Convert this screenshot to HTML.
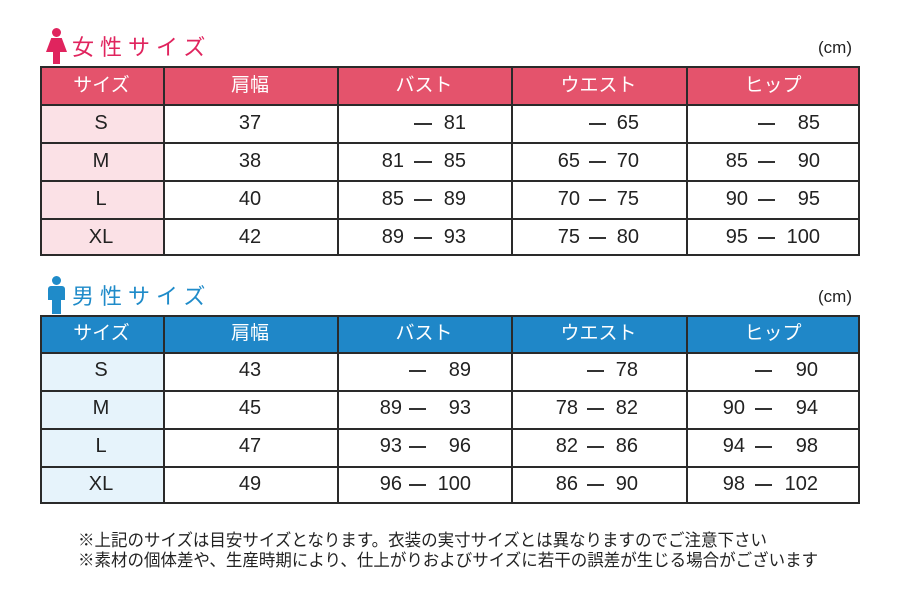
<!DOCTYPE html>
<html><head><meta charset="utf-8"><style>
*{margin:0;padding:0;box-sizing:border-box}
body{width:900px;height:590px;background:#fff;position:relative;overflow:hidden;font-family:"Liberation Sans","Noto Sans CJK JP",sans-serif;color:#222}
.a{position:absolute}
.tb{position:absolute;left:40px;width:820px;border:2px solid #2a2a2a}
.r{position:absolute;left:0;width:100%;border-top:2px solid #2a2a2a}
.v{position:absolute;top:0;height:100%;border-left:2px solid #2a2a2a}
.h{position:absolute;color:#fff;font-size:19px;text-align:center;line-height:36px}
.c{position:absolute;font-size:20px;text-align:center;width:120px;line-height:22px}
.n{position:absolute;font-size:20px;width:60px;text-align:right;line-height:22px}
.d{position:absolute;height:2px;background:#333}
.title{position:absolute;font-size:22px;letter-spacing:6px;font-family:"Noto Sans CJK JP",sans-serif}
.cm{position:absolute;left:818px;font-size:17px}
.note{position:absolute;left:78px;font-size:17px;font-family:"Noto Sans CJK JP",sans-serif;white-space:nowrap;transform:scaleX(0.97);transform-origin:left}
</style></head><body>

<div class="a" style="left:52px;top:28px;width:9px;height:9px;border-radius:50%;background:#e0245e"></div>
<div class="a" style="left:46px;top:38px;width:21px;height:14px;background:#e0245e;clip-path:polygon(25% 0,75% 0,100% 100%,0 100%)"></div>
<div class="a" style="left:53px;top:50px;width:7px;height:14px;background:#e0245e"></div>
<div class="title" style="left:72px;top:30px;color:#e0245e">女性サイズ</div>
<div class="cm" style="top:38px">(cm)</div>

<div class="tb" style="top:66px;height:190px">
 <div class="a" style="left:0;top:0;width:100%;height:36px;background:#e4536c"></div>
 <div class="a" style="left:0;top:36px;width:121px;height:150px;background:#fbe1e6"></div>
 <div class="r" style="top:36px"></div><div class="r" style="top:74px"></div><div class="r" style="top:112px"></div><div class="r" style="top:150px"></div>
 <div class="v" style="left:121px"></div><div class="v" style="left:295px"></div><div class="v" style="left:469px"></div><div class="v" style="left:644px"></div>
</div>
<div class="h" style="left:40px;width:123px;top:68px">サイズ</div>
<div class="h" style="left:163px;width:174px;top:68px">肩幅</div>
<div class="h" style="left:337px;width:174px;top:68px">バスト</div>
<div class="h" style="left:511px;width:175px;top:68px">ウエスト</div>
<div class="h" style="left:686px;width:174px;top:68px">ヒップ</div>

<div class="c" style="left:41px;top:112px">S</div><div class="c" style="left:41px;top:150px">M</div><div class="c" style="left:41px;top:188px">L</div><div class="c" style="left:41px;top:226px">XL</div>
<div class="c" style="left:190px;top:112px">37</div><div class="c" style="left:190px;top:150px">38</div><div class="c" style="left:190px;top:188px">40</div><div class="c" style="left:190px;top:226px">42</div>

<div class="d" style="left:414px;width:18px;top:123px"></div><div class="n" style="left:406px;top:112px">81</div>
<div class="n" style="left:344px;top:150px">81</div><div class="d" style="left:414px;width:18px;top:161px"></div><div class="n" style="left:406px;top:150px">85</div>
<div class="n" style="left:344px;top:188px">85</div><div class="d" style="left:414px;width:18px;top:199px"></div><div class="n" style="left:406px;top:188px">89</div>
<div class="n" style="left:344px;top:226px">89</div><div class="d" style="left:414px;width:18px;top:237px"></div><div class="n" style="left:406px;top:226px">93</div>
<div class="d" style="left:589px;width:17px;top:123px"></div><div class="n" style="left:579px;top:112px">65</div>
<div class="n" style="left:520px;top:150px">65</div><div class="d" style="left:589px;width:17px;top:161px"></div><div class="n" style="left:579px;top:150px">70</div>
<div class="n" style="left:520px;top:188px">70</div><div class="d" style="left:589px;width:17px;top:199px"></div><div class="n" style="left:579px;top:188px">75</div>
<div class="n" style="left:520px;top:226px">75</div><div class="d" style="left:589px;width:17px;top:237px"></div><div class="n" style="left:579px;top:226px">80</div>
<div class="d" style="left:758px;width:17px;top:123px"></div><div class="n" style="left:760px;top:112px">85</div>
<div class="n" style="left:688px;top:150px">85</div><div class="d" style="left:758px;width:17px;top:161px"></div><div class="n" style="left:760px;top:150px">90</div>
<div class="n" style="left:688px;top:188px">90</div><div class="d" style="left:758px;width:17px;top:199px"></div><div class="n" style="left:760px;top:188px">95</div>
<div class="n" style="left:688px;top:226px">95</div><div class="d" style="left:758px;width:17px;top:237px"></div><div class="n" style="left:760px;top:226px">100</div>

<div class="a" style="left:52px;top:276px;width:9px;height:9px;border-radius:50%;background:#1f8bc9"></div>
<div class="a" style="left:48px;top:286px;width:17px;height:14px;border-radius:3px 3px 0 0;background:#1f8bc9"></div>
<div class="a" style="left:52px;top:298px;width:9px;height:16px;background:#1f8bc9"></div>
<div class="title" style="left:72px;top:279px;color:#1f8bc9">男性サイズ</div>
<div class="cm" style="top:287px">(cm)</div>

<div class="tb" style="top:315px;height:189px">
 <div class="a" style="left:0;top:0;width:100%;height:35px;background:#1f87c8"></div>
 <div class="a" style="left:0;top:35px;width:121px;height:150px;background:#e6f3fb"></div>
 <div class="r" style="top:35px"></div><div class="r" style="top:73px"></div><div class="r" style="top:111px"></div><div class="r" style="top:149px"></div>
 <div class="v" style="left:121px"></div><div class="v" style="left:295px"></div><div class="v" style="left:469px"></div><div class="v" style="left:644px"></div>
</div>
<div class="h" style="left:40px;width:123px;top:316px">サイズ</div>
<div class="h" style="left:163px;width:174px;top:316px">肩幅</div>
<div class="h" style="left:337px;width:174px;top:316px">バスト</div>
<div class="h" style="left:511px;width:175px;top:316px">ウエスト</div>
<div class="h" style="left:686px;width:174px;top:316px">ヒップ</div>

<div class="c" style="left:41px;top:359px">S</div><div class="c" style="left:41px;top:397px">M</div><div class="c" style="left:41px;top:435px">L</div><div class="c" style="left:41px;top:473px">XL</div>
<div class="c" style="left:190px;top:359px">43</div><div class="c" style="left:190px;top:397px">45</div><div class="c" style="left:190px;top:435px">47</div><div class="c" style="left:190px;top:473px">49</div>

<div class="d" style="left:409px;width:17px;top:370px"></div><div class="n" style="left:411px;top:359px">89</div>
<div class="n" style="left:342px;top:397px">89</div><div class="d" style="left:409px;width:17px;top:408px"></div><div class="n" style="left:411px;top:397px">93</div>
<div class="n" style="left:342px;top:435px">93</div><div class="d" style="left:409px;width:17px;top:446px"></div><div class="n" style="left:411px;top:435px">96</div>
<div class="n" style="left:342px;top:473px">96</div><div class="d" style="left:409px;width:17px;top:484px"></div><div class="n" style="left:411px;top:473px">100</div>
<div class="d" style="left:587px;width:17px;top:370px"></div><div class="n" style="left:578px;top:359px">78</div>
<div class="n" style="left:518px;top:397px">78</div><div class="d" style="left:587px;width:17px;top:408px"></div><div class="n" style="left:578px;top:397px">82</div>
<div class="n" style="left:518px;top:435px">82</div><div class="d" style="left:587px;width:17px;top:446px"></div><div class="n" style="left:578px;top:435px">86</div>
<div class="n" style="left:518px;top:473px">86</div><div class="d" style="left:587px;width:17px;top:484px"></div><div class="n" style="left:578px;top:473px">90</div>
<div class="d" style="left:755px;width:17px;top:370px"></div><div class="n" style="left:758px;top:359px">90</div>
<div class="n" style="left:685px;top:397px">90</div><div class="d" style="left:755px;width:17px;top:408px"></div><div class="n" style="left:758px;top:397px">94</div>
<div class="n" style="left:685px;top:435px">94</div><div class="d" style="left:755px;width:17px;top:446px"></div><div class="n" style="left:758px;top:435px">98</div>
<div class="n" style="left:685px;top:473px">98</div><div class="d" style="left:755px;width:17px;top:484px"></div><div class="n" style="left:758px;top:473px">102</div>

<div class="note" style="top:526px">※上記のサイズは目安サイズとなります。衣装の実寸サイズとは異なりますのでご注意下さい</div>
<div class="note" style="top:546px">※素材の個体差や、生産時期により、仕上がりおよびサイズに若干の誤差が生じる場合がございます</div>
</body></html>
